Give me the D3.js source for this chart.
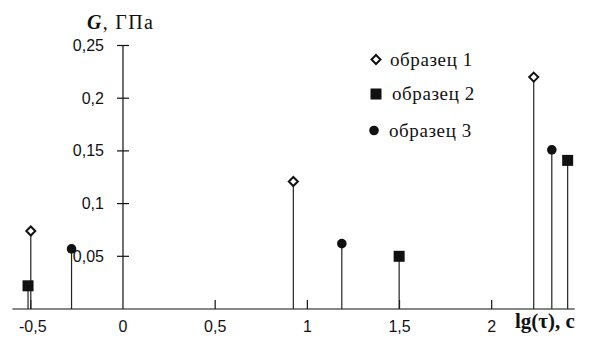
<!DOCTYPE html>
<html><head><meta charset="utf-8">
<script src="https://cdn.jsdelivr.net/npm/d3@7"></script>
<style>body{margin:0;background:#fff}svg{display:block}</style>
</head><body>
<svg id="c" width="590" height="342"></svg>
<script>
const xTicks = [-0.5, 0, 0.5, 1, 1.5, 2];
const yTicks = [0.05, 0.1, 0.15, 0.2, 0.25];
const seriesNames = ["образец 1", "образец 2", "образец 3"];
const s1x = [-0.5, 0.924, 2.228];
const s1y = [0.074, 0.121, 0.220];
const s2x = [-0.515, 1.498, 2.412];
const s2y = [0.022, 0.050, 0.141];
const s3x = [-0.279, 1.187, 2.326];
const s3y = [0.057, 0.062, 0.151];

const svg = d3.select("#c");
const x = d3.scaleLinear().domain([-0.5, 2]).range([30.8, 491.7]);
const y = d3.scaleLinear().domain([0, 0.25]).range([309, 45.5]);
const fmt = d => String(d).replace(".", ",");
const ink = "#111";
const tickFont = "'Liberation Sans', Arial, sans-serif";
const serif = "'Liberation Serif', 'Times New Roman', serif";

// x axis
svg.append("line").attr("x1", x(-0.6)).attr("x2", x(2.45)).attr("y1", y(0)).attr("y2", y(0))
  .attr("stroke", ink).attr("stroke-width", 1.2);
const gx = svg.append("g");
gx.selectAll("line").data(xTicks.filter(d => d !== 0)).join("line")
  .attr("x1", d => x(d)).attr("x2", d => x(d)).attr("y1", y(0)).attr("y2", y(0) - 9)
  .attr("stroke", ink).attr("stroke-width", 1.2);
gx.selectAll("text").data(xTicks).join("text")
  .attr("x", d => x(d) + (d < 0 ? 2 : 0)).attr("y", 332)
  .attr("text-anchor", "middle")
  .attr("font-family", tickFont).attr("font-size", 16)
  .attr("fill", ink).text(fmt);

// y axis
svg.append("line").attr("x1", x(0)).attr("x2", x(0)).attr("y1", y(0.25)).attr("y2", y(0))
  .attr("stroke", ink).attr("stroke-width", 1.2);
const gy = svg.append("g");
gy.selectAll("line").data(yTicks).join("line")
  .attr("x1", x(0) - 6).attr("x2", x(0) + 6).attr("y1", d => y(d)).attr("y2", d => y(d))
  .attr("stroke", ink).attr("stroke-width", 1.2);
gy.selectAll("text").data(yTicks).join("text")
  .attr("x", x(0) - 19).attr("y", d => y(d) + 5.5)
  .attr("text-anchor", "end")
  .attr("font-family", tickFont).attr("font-size", 16)
  .attr("fill", ink).text(fmt);

// axis titles
const yt = svg.append("text").attr("x", 87).attr("y", 29)
  .attr("font-family", serif).attr("font-size", 20).attr("letter-spacing", 1.3).attr("fill", ink);
yt.append("tspan").attr("font-weight", "bold").attr("font-style", "italic").text("G");
yt.append("tspan").text(", ГПа");
svg.append("text").attr("x", 515).attr("y", 328)
  .attr("font-family", serif).attr("font-size", 21)
  .attr("font-weight", "bold").attr("fill", ink).text("lg(τ), с");

// series
const series = [
  {xs: s1x, ys: s1y, shape: "diamond"},
  {xs: s2x, ys: s2y, shape: "square"},
  {xs: s3x, ys: s3y, shape: "circle"}
];
function marker(g, shape, cx, cy) {
  if (shape === "diamond") {
    g.append("path").attr("d", `M${cx},${cy-4.5}L${cx+4.5},${cy}L${cx},${cy+4.5}L${cx-4.5},${cy}Z`)
      .attr("fill", "#fff").attr("stroke", ink).attr("stroke-width", 2);
  } else if (shape === "square") {
    g.append("rect").attr("x", cx - 5.5).attr("y", cy - 5.5).attr("width", 11).attr("height", 11).attr("fill", ink);
  } else {
    g.append("circle").attr("cx", cx).attr("cy", cy).attr("r", 4.8).attr("fill", ink);
  }
}
const gs = svg.append("g");
series.forEach(s => {
  s.xs.forEach((xv, i) => {
    gs.append("line").attr("x1", x(xv)).attr("x2", x(xv)).attr("y1", y(0)).attr("y2", y(s.ys[i]))
      .attr("stroke", "#222").attr("stroke-width", 1.2);
  });
});
series.forEach(s => {
  s.xs.forEach((xv, i) => marker(gs, s.shape, x(xv), y(s.ys[i])));
});

// legend
const legY = [59.5, 94, 130.5];
const legMX = [376, 376, 374];
const legTX = [390, 392, 389];
series.forEach((s, i) => {
  marker(svg, s.shape, legMX[i], legY[i]);
  svg.append("text").attr("x", legTX[i]).attr("y", legY[i] + 6)
    .attr("font-family", serif).attr("font-size", 19).attr("letter-spacing", 0.6)
    .attr("fill", ink).text(seriesNames[i]);
});
</script>
</body></html>
